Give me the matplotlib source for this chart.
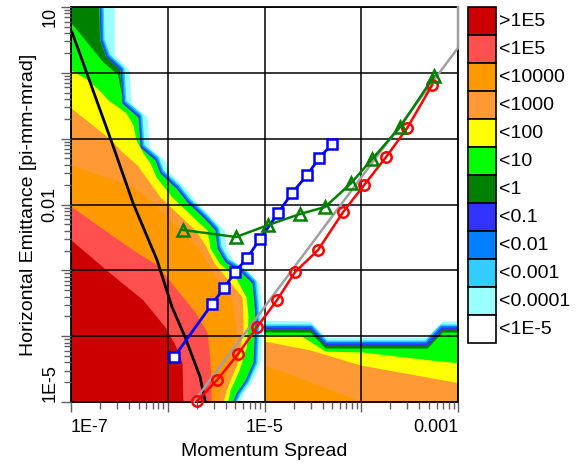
import numpy as np
import matplotlib
matplotlib.use("Agg")
import matplotlib.pyplot as plt
from matplotlib.ticker import NullFormatter

plt.rcParams['font.family'] = ['Liberation Sans', 'DejaVu Sans']

# contour levels, legend order (top to bottom)
level_labels = [">1E5", "<1E5", "<10000", "<1000", "<100", "<10", "<1",
                "<0.1", "<0.01", "<0.001", "<0.0001", "<1E-5"]
level_colors = ["#CC0000", "#FF5050", "#FF9900", "#FF9933", "#FFFF00", "#00FF00",
                "#008000", "#3333FF", "#0080FF", "#33CCFF", "#99FFFF", "#FFFFFF"]

# all positions below are log10(momentum spread), log10(emittance)
# main lobe contour edges (top -> bottom)
cyan_edge_lx = [-6.555, -6.555, -6.400, -6.380, -6.214, -6.193, -6.038, -5.976, -5.821, -5.707,
                -5.542, -5.418, -5.397, -5.314, -5.159, -5.056, -5.035, -5.025, -5.035, -5.046,
                -5.128, -5.221, -5.294]
cyan_edge_ly = [1.182, 0.271, 0.043, -0.458, -0.671, -1.127, -1.324, -1.522, -1.750, -1.962,
                -2.205, -2.387, -2.661, -2.874, -3.026, -3.193, -3.496, -3.755, -4.059, -4.393,
                -4.666, -4.864, -5.122]
blue_edge_lx = [-6.710, -6.700, -6.638, -6.493, -6.473, -6.307, -6.286, -6.131, -6.080, -5.914,
                -5.800, -5.625, -5.511, -5.490, -5.407, -5.242, -5.128, -5.108, -5.097, -5.108,
                -5.118, -5.201, -5.294, -5.366]
blue_edge_ly = [1.182, 0.499, 0.240, 0.043, -0.458, -0.671, -1.127, -1.324, -1.522, -1.750,
                -1.962, -2.205, -2.387, -2.661, -2.874, -3.026, -3.193, -3.496, -3.755, -4.059,
                -4.393, -4.666, -4.864, -5.122]
dkgreen_lx = [-7.114, -6.710, -6.700, -6.638, -6.493, -6.473, -6.514, -6.669, -6.979, -7.114]
dkgreen_ly = [1.182, 1.182, 0.499, 0.240, 0.043, -0.337, -0.033, 0.165, 0.727, 0.787]
yellow_edge_lx = [-7.062, -7.000, -6.824, -6.690, -6.617, -6.514, -6.431, -6.359, -6.328, -6.255,
                  -6.183, -6.121, -5.956, -5.707, -5.594, -5.563, -5.469, -5.304, -5.190, -5.170,
                  -5.190, -5.263, -5.356, -5.397]
yellow_edge_ly = [0.058, 0.043, -0.109, -0.291, -0.413, -0.519, -0.610, -0.792, -1.020, -1.218,
                  -1.370, -1.582, -1.886, -2.236, -2.387, -2.661, -2.889, -3.101, -3.405, -3.709,
                  -4.165, -4.514, -4.818, -5.122]
ltorange_edge_lx = [-7.062, -7.000, -6.804, -6.586, -6.493, -6.317, -6.080, -5.718, -5.614, -5.521,
                    -5.232, -5.221, -5.283, -5.397, -5.449]
ltorange_edge_ly = [-0.504, -0.534, -0.762, -1.020, -1.172, -1.400, -1.886, -2.387, -2.615, -2.889,
                    -3.405, -3.907, -4.408, -4.818, -5.122]
orange_edge_lx = [-7.062, -7.000, -6.700, -6.390, -6.183, -5.924, -5.666, -5.521, -5.335, -5.294,
                  -5.335, -5.449, -5.500]
orange_edge_ly = [-1.370, -1.400, -1.552, -1.704, -1.932, -2.312, -2.691, -3.071, -3.451, -3.907,
                  -4.362, -4.788, -5.122]
salmon_edge_lx = [-7.062, -6.990, -6.700, -6.359, -6.111, -5.904, -5.718, -5.594, -5.563, -5.552, -5.552]
salmon_edge_ly = [-2.008, -2.038, -2.342, -2.691, -2.919, -3.299, -3.633, -3.937, -4.362, -4.818, -5.122]
red_edge_lx = [-7.062, -7.000, -6.597, -6.255, -6.028, -5.924, -5.852, -5.842]
red_edge_ly = [-2.509, -2.539, -3.041, -3.451, -3.861, -4.134, -4.408, -5.122]

# lower right lobe edges (left -> right)
lobe_x = [-5.0, -4.528, -4.373, -3.318, -3.163, -2.874]
lobe_cyan_ly = [-3.755, -3.770, -4.013, -4.013, -3.770, -3.770]
lobe_blue_ly = [-3.891, -3.891, -4.134, -4.134, -3.891, -3.891]
lobe_green_ly = [-3.937, -3.937, -4.180, -4.180, -3.937, -3.937]
lobe_yellow_lx = [-5.0, -4.632, -4.373, -3.991, -3.287, -2.977, -2.874]
lobe_yellow_ly = [-3.983, -3.983, -4.226, -4.241, -4.362, -4.408, -4.423]
lobe_ltorange_lx = [-5.0, -4.528, -4.011, -2.977, -2.874]
lobe_ltorange_ly = [-4.074, -4.210, -4.438, -4.712, -4.727]
lobe_orange_lx = [-5.0, -4.632, -4.011, -3.960]
lobe_orange_ly = [-4.438, -4.636, -4.985, -5.274]

# curves
black_lx = [-6.990, -6.576, -6.359, -6.111, -5.956, -5.821, -5.666, -5.614]
black_ly = [0.620, -1.066, -1.977, -2.843, -3.557, -4.013, -4.620, -4.985]
gray_lx = [-5.733, -3.0, -3.0]
gray_ly = [-5.0, 0.38, 1.0]
red_lx = [-5.697, -5.490, -5.273, -5.077, -4.870, -4.684, -4.446, -4.187, -3.970, -3.743, -3.525, -3.267]
red_ly = [-4.985, -4.666, -4.271, -3.861, -3.451, -3.026, -2.691, -2.114, -1.704, -1.279, -0.838, -0.185]
blue_lx = [-5.935, -5.542, -5.418, -5.304, -5.180, -5.046, -4.859, -4.715, -4.559, -4.435, -4.301]
blue_ly = [-4.317, -3.512, -3.269, -3.026, -2.813, -2.524, -2.129, -1.825, -1.552, -1.294, -1.081]
green_lx = [-5.842, -5.294, -4.963, -4.632, -4.373, -4.104, -3.887, -3.598, -3.246]
green_ly = [-2.387, -2.494, -2.312, -2.144, -2.038, -1.674, -1.309, -0.823, -0.048]

x_ticks = [1e-7, 1e-6, 1e-5, 1e-4, 1e-3]
x_tick_labels = ["1E-7", "", "1E-5", "", "0.001"]
y_ticks = [1e-5, 1e-4, 1e-3, 1e-2, 1e-1, 1, 10]
y_tick_labels = ["1E-5", "", "", "0.01", "", "", "10"]

PX = 0.72  # points per pixel at dpi 100
OUT_LX, OUT_LY = -7.5, -5.5


def e(v):
    return 10.0 ** np.asarray(v)


fig = plt.figure(figsize=(5.81, 4.69), dpi=100)
ax = fig.add_axes([71 / 581, 67 / 469, 387 / 581, 395 / 469])


def fill_left(lx, ly, color, z):
    ax.fill_betweenx(e(ly), e(OUT_LX), e(lx), color=color, lw=0, zorder=z)


def fill_down(lx, ly, color, z):
    ax.fill_between(e(lx), e(ly), e(OUT_LY), color=color, lw=0, zorder=z)


def fringe(lx, ly, z):
    for col, w in ((level_colors[9], 9), (level_colors[8], 6), (level_colors[7], 3)):
        ax.plot(e(lx), e(ly), color=col, lw=w * PX, solid_capstyle='butt',
                solid_joinstyle='round', zorder=z)
        z += 0.01


# main lobe
fill_left(cyan_edge_lx, cyan_edge_ly, level_colors[10], 1.0)
fringe(blue_edge_lx, blue_edge_ly, 1.05)
fill_left(blue_edge_lx, blue_edge_ly, level_colors[5], 1.1)
ax.fill(e(dkgreen_lx), e(dkgreen_ly), color=level_colors[6], lw=0, zorder=1.15)
fill_left(yellow_edge_lx, yellow_edge_ly, level_colors[4], 1.2)
fill_left(ltorange_edge_lx, ltorange_edge_ly, level_colors[3], 1.25)
fill_left(orange_edge_lx, orange_edge_ly, level_colors[2], 1.3)
fill_left(salmon_edge_lx, salmon_edge_ly, level_colors[1], 1.35)
fill_left(red_edge_lx, red_edge_ly, level_colors[0], 1.4)

# lower right lobe
fill_down(lobe_x, lobe_cyan_ly, level_colors[10], 1.5)
fringe(lobe_x, lobe_blue_ly, 1.55)
fill_down(lobe_x, lobe_blue_ly, level_colors[6], 1.6)
fill_down(lobe_x, lobe_green_ly, level_colors[5], 1.65)
fill_down(lobe_yellow_lx, lobe_yellow_ly, level_colors[4], 1.7)
fill_down(lobe_ltorange_lx, lobe_ltorange_ly, level_colors[3], 1.75)
fill_down(lobe_orange_lx, lobe_orange_ly, level_colors[2], 1.8)

# curves
ax.plot(e(black_lx), e(black_ly), color='black', lw=2.0, zorder=4)
ax.plot(e(gray_lx), e(gray_ly), color='#A0A0A0', lw=1.8, zorder=4.1, clip_on=False)
ax.plot(e(red_lx), e(red_ly), color='#FF0000', lw=1.8, marker='o', ms=7.5, mfc='none',
        mec='#FF0000', mew=1.8, zorder=4.2, clip_on=False)
ax.plot(e(blue_lx), e(blue_ly), color='#0000FF', lw=2.0, marker='s', ms=6.5, mfc='white',
        mec='#0000FF', mew=1.8, zorder=4.3)
ax.plot(e(green_lx), e(green_ly), color='#008000', lw=1.8, marker='^', ms=9, mfc='none',
        mec='#008000', mew=1.8, zorder=4.4)

ax.set_xscale('log')
ax.set_yscale('log')
ax.set_xlim(1e-7, 1e-3)
ax.set_ylim(1e-5, 10)
ax.set_xticks(x_ticks, labels=x_tick_labels)
ax.set_yticks(y_ticks, labels=y_tick_labels)
ax.xaxis.set_minor_formatter(NullFormatter())
ax.yaxis.set_minor_formatter(NullFormatter())
ax.set_axisbelow(False)
ax.grid(True, which='major', color='black', lw=1.1)
for sp in ax.spines.values():
    sp.set_linewidth(1.3)
ax.tick_params(which='both', direction='out', color='#606060', width=1.0)
ax.tick_params(which='major', length=7, labelsize=13)
ax.tick_params(which='minor', length=5)
ax.tick_params(axis='x', pad=5)
ax.tick_params(axis='y', pad=2)

xl = ax.get_xticklabels()
xl[0].set_ha('left')
xl[-1].set_ha('right')
for lab, va in zip(ax.get_yticklabels(), ['bottom', 'center', 'center', 'center', 'center', 'center', 'top']):
    lab.set_rotation(90)
    lab.set_va(va)

ax.set_xlabel("Momentum Spread", fontsize=14)
ax.xaxis.set_label_coords(0.5, -0.104)
ax.set_ylabel("Horizontal Emittance [pi-mm-mrad]", fontsize=14)
ax.yaxis.set_label_coords(-0.088, 0.5)

# level legend
n = len(level_labels)
lax = fig.add_axes([468 / 581, (469 - 343) / 469, 28 / 581, 336 / 469])
bars = lax.bar([0.5] * n, [1] * n, width=1, bottom=n - 1 - np.arange(n),
               color=level_colors, edgecolor='black', linewidth=1.2)
for b in bars:
    b.set_clip_on(False)
for i, lab in enumerate(level_labels):
    lax.text(1.12, n - 1 - i + 0.5, lab, ha='left', va='center', fontsize=14)
lax.set_xlim(0, 1)
lax.set_ylim(0, n)
lax.axis('off')

fig.savefig("out.png", dpi=100)
